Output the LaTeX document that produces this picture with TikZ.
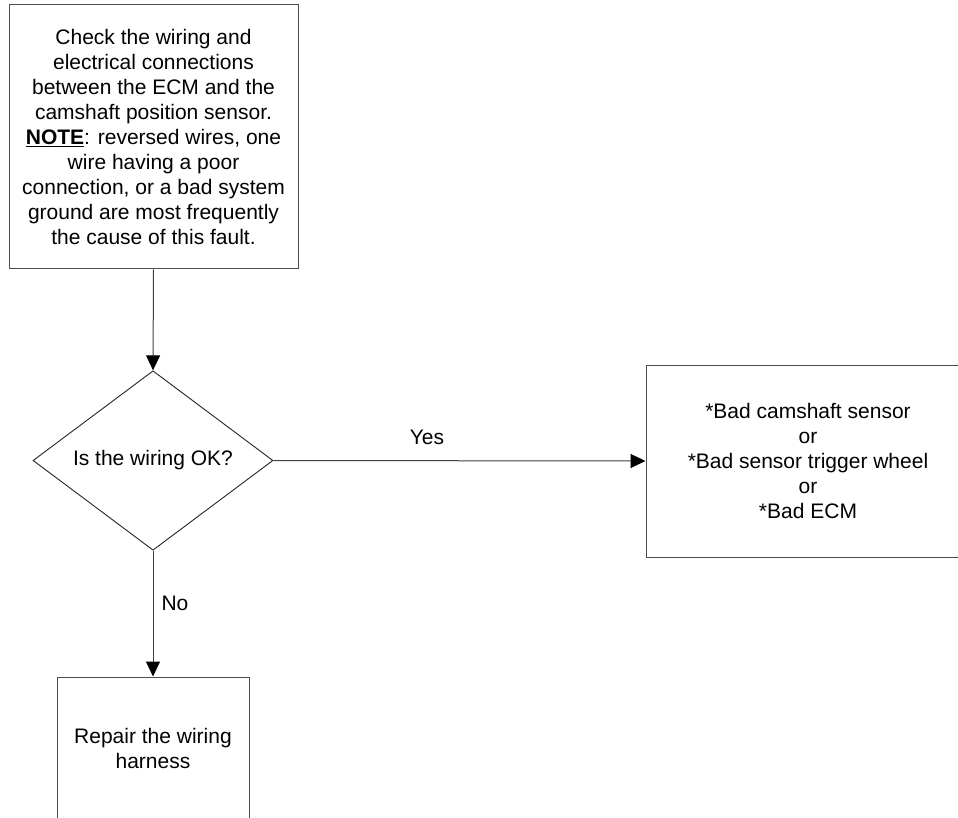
\documentclass[tikz,border=0pt]{standalone}
\usepackage{fontspec}
\setmainfont{Liberation Sans}
\usetikzlibrary{shapes.geometric,arrows.meta}
\begin{document}
\begin{tikzpicture}[x=1pt,y=-1pt,
  every node/.style={font=\fontsize{21}{25}\selectfont},
  box/.style={draw=black!70,line width=1pt,inner sep=0pt,align=center,anchor=center},
  decide/.style={draw=black!85,line width=0.9pt,diamond,inner sep=0pt,align=center},
  conn/.style={draw=black!75,line width=1pt,-{Triangle[length=15pt,width=14pt,color=black,fill=black]}},
  lbl/.style={inner sep=0pt}]
\useasboundingbox (0,0) rectangle (958,818);
\clip (0,0) rectangle (958,818);
\fill[white] (0,0) rectangle (958,818);
\node[box,minimum width=289pt,minimum height=264pt] (check) at (153.5,137)
  {Check the wiring and\\electrical connections\\between the ECM and the\\camshaft position sensor.\\\underline{\textbf{NOTE}}: reversed wires, one\\wire having a poor\\connection, or a bad system\\ground are most frequently\\the cause of this fault.};
\node[decide,minimum width=240pt,minimum height=167pt] (ok) at (153,460.5) {Is the wiring OK?};
\node[box,minimum width=324pt,minimum height=192pt] (bad) at (808,461)
  {*Bad camshaft sensor\\or\\*Bad sensor trigger wheel\\or\\*Bad ECM};
\node[box,minimum width=192pt,minimum height=142pt] (repair) at (153,748)
  {Repair the wiring\\harness};
\draw[conn] (check.south) -- (ok.north);
\draw[conn] (ok.east) -- (bad.west);
\draw[conn] (ok.south) -- (repair.north);
\node[lbl] (yes) at (427,437) {Yes};
\node[lbl] (no) at (175,603) {No};
\end{tikzpicture}
\end{document}
